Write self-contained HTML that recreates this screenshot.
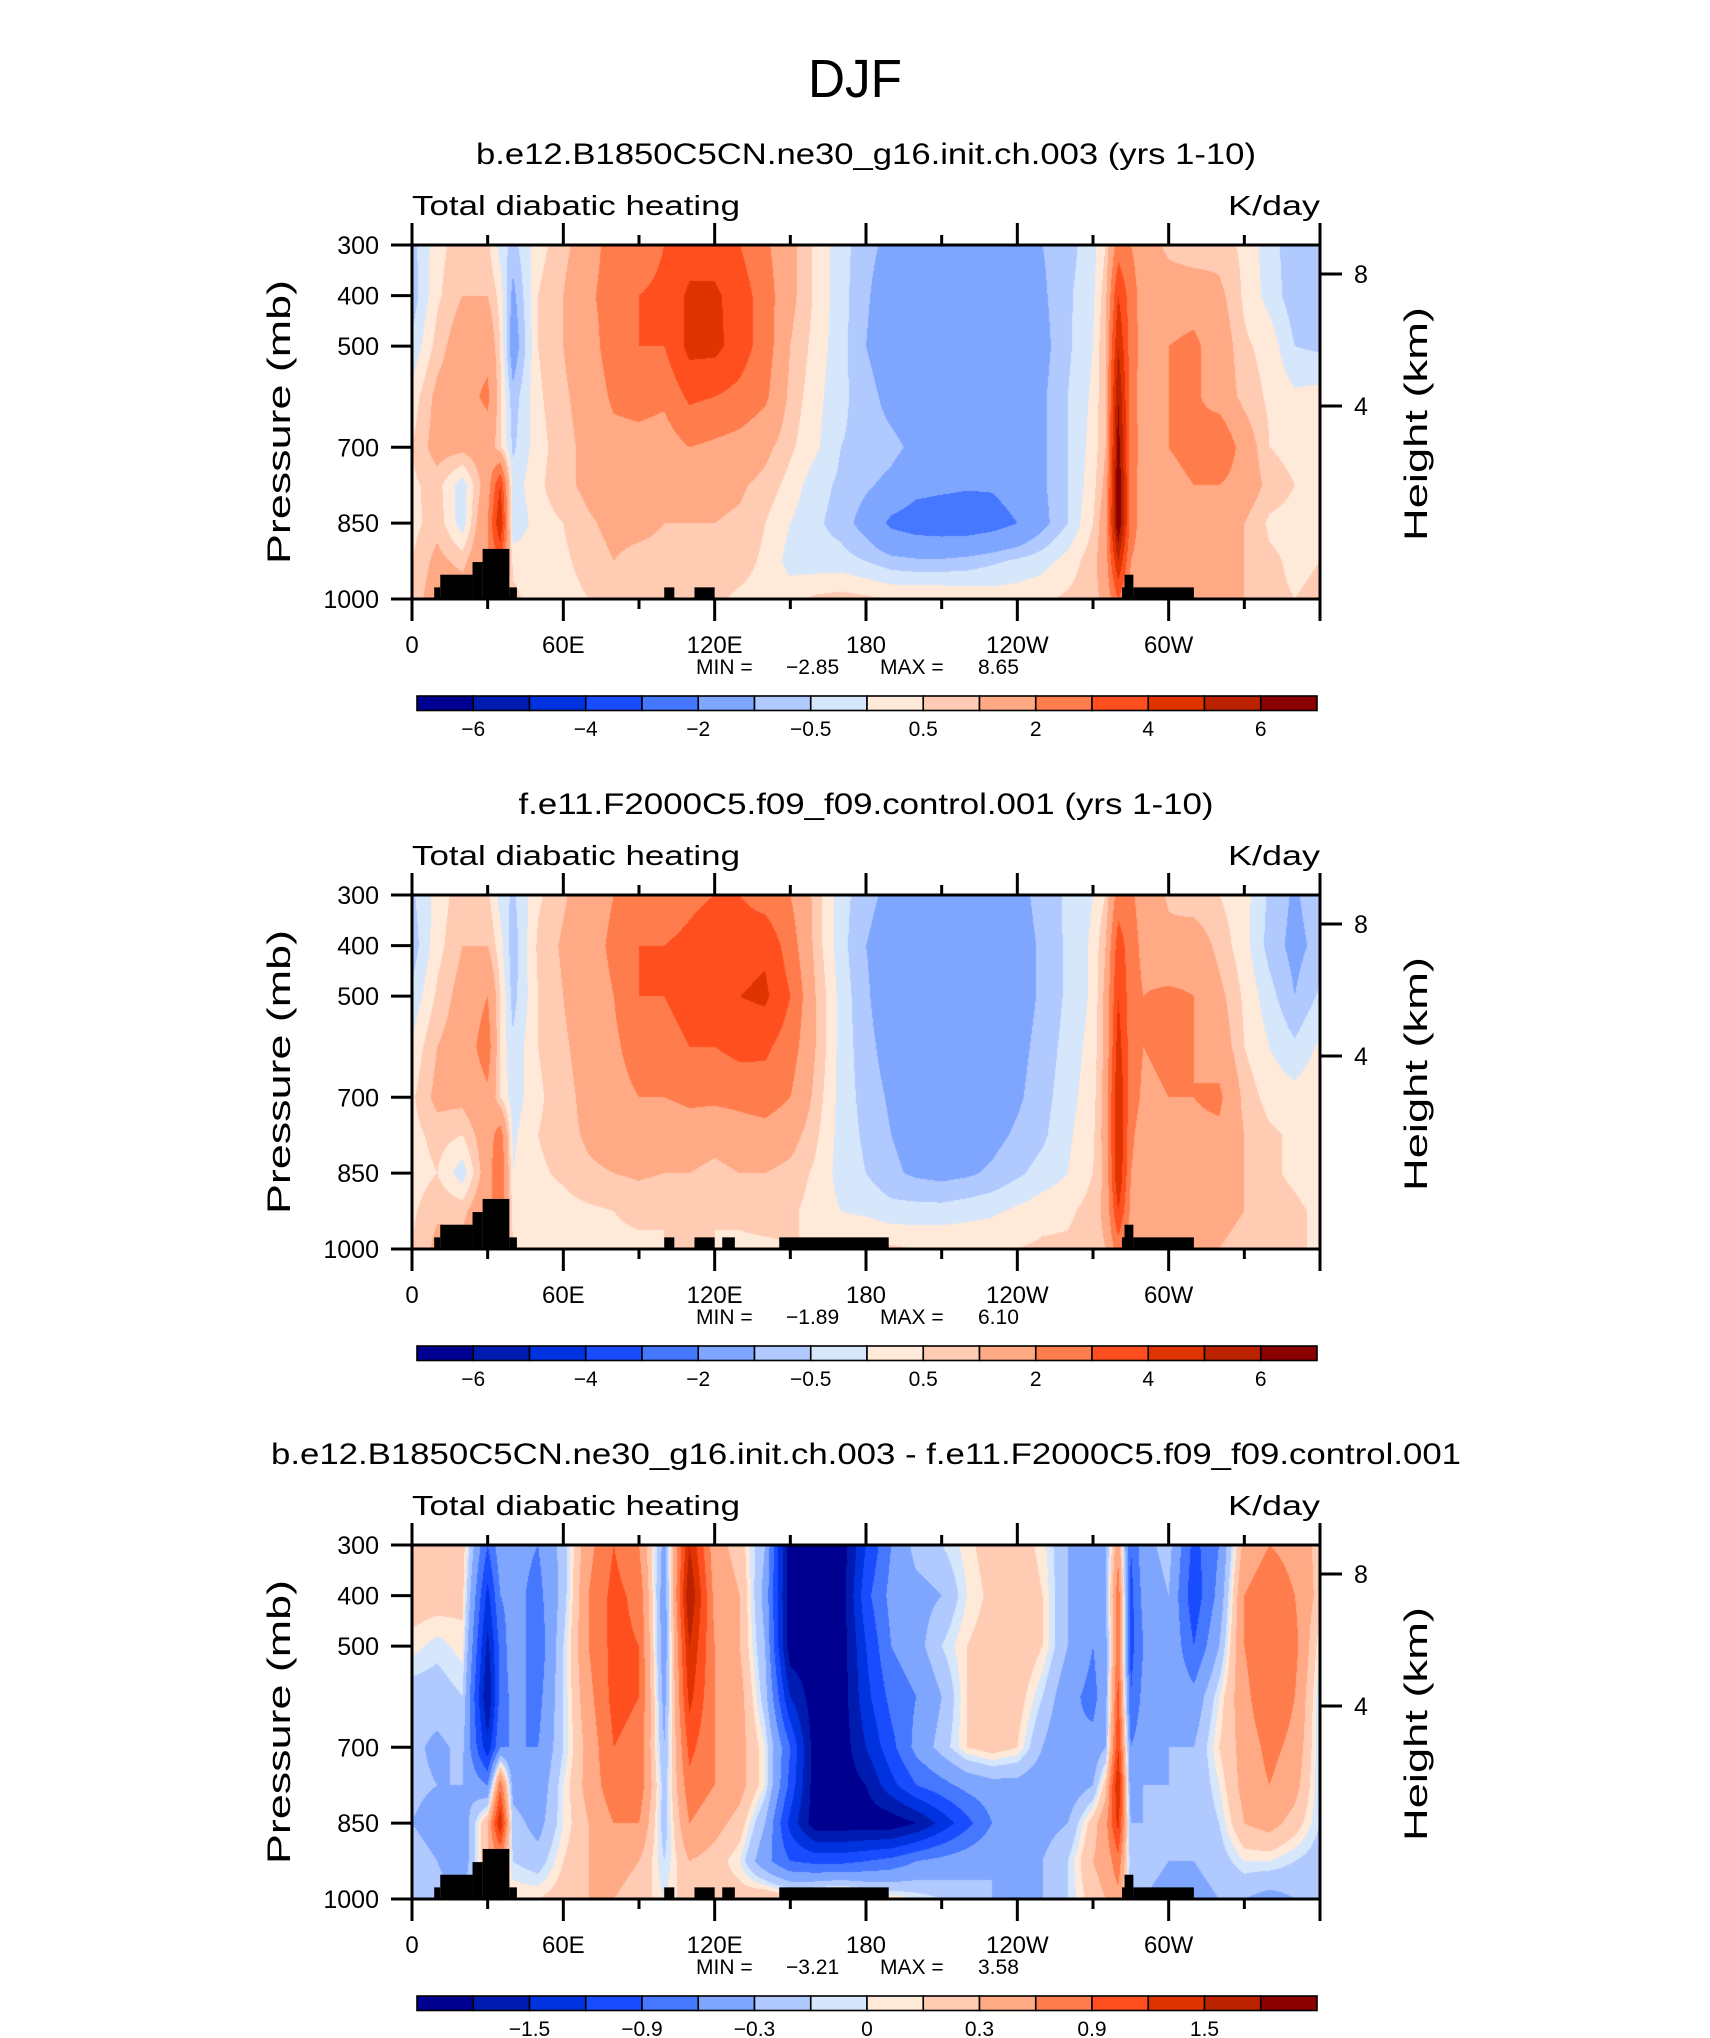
<!DOCTYPE html>
<html><head><meta charset="utf-8">
<style>
html,body{margin:0;padding:0;background:#fff;}
body{width:1710px;height:2038px;position:relative;overflow:hidden;font-family:"Liberation Sans",sans-serif;}
canvas{position:absolute;}
svg{position:absolute;left:0;top:0;}
</style></head>
<body>
<canvas id="c0" width="908" height="354" style="left:412px;top:245px"></canvas>
<canvas id="c1" width="908" height="354" style="left:412px;top:895px"></canvas>
<canvas id="c2" width="908" height="354" style="left:412px;top:1545px"></canvas>
<svg id="svg" width="1710" height="2038" xmlns="http://www.w3.org/2000/svg"></svg>
<script>
const LONS=[0,10,20,30,35,40,50,60,70,80,90,100,110,120,130,140,150,160,170,180,190,200,210,220,230,240,250,260,270,275,280,285,290,300,310,320,330,340,350,360];
const LEVS=[300,400,500,600,700,775,850,925,1000];

const p1_300=[-0.7,0.3,0.8,0.6,-0.2,-0.7,0.3,0.8,1.5,2.5,2.5,3,3.5,3.5,3,2.2,1.2,0.4,-0.3,-0.8,-1.2,-1.3,-1.3,-1.3,-1.3,-1.2,-1,-0.7,-0.2,0.5,2.5,2,1.5,0.8,0.5,0.7,0.4,-0.3,-0.8,-0.7];
const p1_400=[-0.8,0.4,1,1,0.3,-1.2,0.5,1,1.8,2.5,3,3.2,4.2,4.2,3.5,2.5,1.2,0.4,-0.3,-0.9,-1.5,-1.5,-1.6,-1.6,-1.5,-1.4,-1.1,-0.6,-0.1,0.8,4,2.5,1.5,1.5,1.6,1.2,0.4,-0.2,-0.8,-0.8];
const p1_500=[-0.4,0.7,1.5,1.7,0.5,-1.5,0.5,1,1.5,2.6,3,3,4.3,4.3,3.5,2.5,1,0.3,-0.3,-1,-1.6,-1.6,-1.6,-1.6,-1.6,-1.5,-1.2,-0.6,0,1,5,2.5,1.6,2,2.2,1.5,0.6,0.3,-0.5,-0.6];
const p1_600=[0.2,1.2,1.6,2.2,0.6,-0.8,0.4,0.9,1.3,2.2,2.4,2.2,3.2,3,2.7,2.2,0.8,0.2,-0.4,-0.7,-1.3,-1.6,-1.6,-1.6,-1.6,-1.5,-1.1,-0.5,0.1,1,6,2.5,1.5,2,2.2,1.5,0.8,0.4,0.1,0.2];
const p1_700=[0.5,1.3,1.2,1.5,0.6,-0.6,0.3,0.8,1.2,1.6,1.6,1.5,2,1.8,1.6,1.2,0.6,0.1,-0.5,-0.6,-0.8,-1.2,-1.5,-1.5,-1.6,-1.5,-1.1,-0.5,0.2,1,6.5,2.5,1.6,2,2.2,3,1.5,0.5,0.3,0.5];
const p1_775=[0.4,0.7,-0.3,1.5,4,-0.3,0.4,0.8,1.2,1.4,1.3,1.2,1.2,1.2,1.1,0.8,0.3,-0.3,-0.6,-0.9,-1.2,-1.7,-1.8,-1.9,-1.9,-1.6,-1.1,-0.5,0.3,1.2,7,2.5,1.5,1.8,2,2,1.5,0.8,0.5,0.4];
const p1_850=[0.3,0.8,-0.3,2,5,-0.5,0.3,0.5,0.9,1.2,1.2,1,1,1,0.9,0.5,0,-0.4,-0.7,-1.3,-2.2,-2.5,-2.6,-2.6,-2.4,-2,-1.2,-0.5,0.5,1.5,7,2.5,1.5,1.6,1.8,1.5,1,0.4,0.3,0.3];
const p1_925=[0.5,1.2,0.8,2,3,0.4,0.3,0.4,0.7,1,0.8,0.8,0.7,0.8,0.7,0.4,-0.2,-0.3,-0.3,-0.5,-0.8,-0.9,-0.9,-0.8,-0.6,-0.4,-0.2,0.2,0.8,1.5,5,2,1.5,1.3,1.3,1.2,1,0.6,0.4,0.5];
const p1_1000=[0.6,1.5,1.5,1.5,1.5,0.6,0.3,0.3,0.5,0.8,0.6,0.6,0.6,0.6,0.4,0.3,0.3,0.6,0.7,0.6,0.5,0.5,0.5,0.4,0.3,0.3,0.4,0.6,0.8,1.2,3,1.5,1.2,1.2,1.2,1.1,1,0.6,0.5,0.6];

const p2_300=[-0.6,0.2,0.8,0.6,-0.2,-0.6,0.4,0.9,1.5,2,2.5,2.5,2.8,3,3,2.5,2,0.8,-0.3,-0.8,-1.2,-1.3,-1.3,-1.3,-1.3,-1.2,-0.8,-0.4,0,0.5,2.5,2.2,1.5,0.9,0.6,0.5,0.2,-0.6,-1.1,-0.6];
const p2_400=[-0.8,0.3,1,1,0.2,-0.8,0.6,1.1,1.6,2.2,3,3,3.2,3.5,3.6,3.8,2.5,0.8,-0.3,-1,-1.4,-1.5,-1.5,-1.5,-1.5,-1.3,-0.9,-0.4,0.1,1,3.5,2.5,1.7,1.2,1.5,0.8,0.2,-0.7,-1.2,-0.8];
const p2_500=[-0.4,0.6,1.3,2,0.5,-0.7,0.5,1,1.5,2,3,3,3.5,3.7,4,4.2,3,1,-0.2,-0.9,-1.5,-1.5,-1.5,-1.5,-1.5,-1.3,-0.9,-0.4,0.1,1.2,4,2.5,2,2.2,2,1.2,0.4,-0.3,-1,-0.4];
const p2_600=[0.1,1,1.4,2.5,0.4,-0.4,0.5,0.9,1.3,1.8,2.5,2.5,3,3,3.3,3.2,2.5,1,-0.2,-0.8,-1.3,-1.5,-1.5,-1.5,-1.5,-1.2,-0.8,-0.3,0.2,1.2,4.5,2.5,2,2.2,2,1.5,0.5,0,-0.4,0.1];
const p2_700=[0.4,1.2,1.2,1.8,0.5,-0.3,0.4,0.8,1.2,1.6,2,2,2.2,2.2,2.3,2.5,2,0.8,-0.2,-0.7,-1.1,-1.3,-1.4,-1.4,-1.4,-1.1,-0.7,-0.2,0.3,1.3,5,2.5,1.8,2,2,2.2,0.8,0.3,0.2,0.4];
const p2_775=[0.3,0.7,0.5,1.5,2.5,-0.1,0.5,0.8,1.1,1.3,1.5,1.3,1.5,1.3,1.5,1.6,1.3,0.6,-0.2,-0.6,-1,-1.2,-1.3,-1.3,-1.2,-0.9,-0.6,-0.1,0.4,1.3,5,2.2,1.5,1.8,1.8,1.8,1,0.6,0.4,0.3];
const p2_850=[0.2,0.5,-0.3,1.5,3,0,0.4,0.6,0.9,1,1.1,1,1,0.8,1,1,0.8,0.4,-0.2,-0.5,-0.9,-1.1,-1.2,-1.1,-0.9,-0.6,-0.3,0,0.5,1.2,5,2,1.5,1.6,1.5,1.4,1,0.6,0.4,0.2];
const p2_925=[0.4,0.9,0.8,1.8,2.5,0.4,0.3,0.3,0.4,0.5,0.6,0.5,0.6,0.5,0.6,0.7,0.6,0.3,0,-0.1,-0.3,-0.3,-0.3,-0.2,-0.1,0.1,0.3,0.4,0.7,1.2,4,1.8,1.3,1.3,1.2,1.2,1,0.7,0.6,0.4];
const p2_1000=[0.5,1.2,1.3,1.5,1.5,0.5,0.3,0.3,0.3,0.4,0.4,0.5,0.5,0.5,0.4,0.4,0.5,0.5,0.5,0.6,0.6,0.5,0.5,0.5,0.5,0.5,0.6,0.6,0.7,1,2.5,1.3,1.2,1,1,1,0.8,0.6,0.5,0.5];

const p3_300=[0.2,0.3,0.2,-0.9,-0.4,-0.5,-0.6,-0.2,0.5,0.9,0.6,-0.4,1.5,0.4,0.2,-0.3,-2,-2,-2,-1.2,-0.6,-0.2,-0.1,0.05,0.2,0.2,0.05,-0.3,-0.5,-0.3,0.5,-0.9,-0.4,-0.2,-1,-0.6,0.4,0.6,0.5,0.2];
const p3_400=[0.2,0.2,0.15,-1.3,-0.6,-0.5,-0.7,-0.2,0.6,1,0.8,-0.5,1.8,0.5,0.3,-0.4,-2,-2,-2,-1,-0.5,-0.4,-0.3,0,0.15,0.25,0.1,-0.3,-0.6,-0.3,0.8,-1,-0.5,-0.3,-1.1,-0.5,0.6,0.8,0.6,0.2];
const p3_500=[0.05,-0.05,0.05,-1.6,-0.8,-0.4,-0.8,-0.1,0.6,1,0.9,-0.5,1.5,0.6,0.3,-0.3,-2,-2,-2,-1.2,-0.6,-0.4,-0.1,0.1,0.2,0.3,0.1,-0.3,-0.6,-0.4,0.8,-1,-0.6,-0.3,-0.9,-0.3,0.6,0.9,0.7,0];
const p3_600=[-0.2,-0.2,-0.1,-1.8,-0.8,-0.5,-0.7,-0.1,0.5,1,0.9,-0.4,1.3,0.6,0.4,-0.2,-1.5,-2,-2,-1.3,-0.8,-0.6,-0.3,0.1,0.2,0.2,-0.1,-0.5,-0.7,-0.4,1,-0.9,-0.5,-0.3,-0.5,0,0.5,0.9,0.6,-0.1];
const p3_700=[-0.25,-0.35,-0.25,-1.4,-0.6,-0.6,-0.6,-0.1,0.4,0.9,0.8,-0.3,1,0.6,0.4,0,-0.9,-2,-2,-1.5,-1,-0.5,-0.2,0.1,0.2,0.1,-0.3,-0.6,-0.5,-0.3,1.2,-0.6,-0.4,-0.3,-0.3,0.1,0.4,0.7,0.5,-0.1];
const p3_775=[-0.25,-0.3,-0.3,-0.6,0.8,-0.4,-0.5,0,0.4,0.8,0.8,-0.2,0.8,0.6,0.4,0,-1,-2,-2,-1.8,-1.3,-0.9,-0.7,-0.5,-0.4,-0.4,-0.5,-0.5,-0.3,0.2,1.5,-0.5,-0.3,-0.3,-0.3,0,0.4,0.6,0.4,-0.1];
const p3_850=[-0.3,-0.4,-0.5,0.3,1.5,-0.2,-0.4,0,0.3,0.6,0.6,-0.2,0.6,0.4,0.2,-0.3,-1.3,-2,-2,-2,-2,-1.8,-1.4,-1,-0.6,-0.5,-0.4,-0.3,0.2,0.5,1.3,-0.3,-0.3,-0.2,-0.3,-0.1,0.3,0.4,0.2,-0.1];
const p3_925=[-0.2,-0.3,-0.5,0.3,0.5,-0.1,-0.2,0.1,0.3,0.4,0.3,-0.1,0.3,0.2,0,-0.5,-0.9,-1,-1,-0.9,-0.8,-0.6,-0.5,-0.4,-0.3,-0.3,-0.3,-0.1,0.3,0.4,0.8,-0.2,-0.2,-0.3,-0.3,-0.2,0,0,-0.1,-0.2];
const p3_1000=[-0.1,-0.2,-0.3,0.2,0.2,0.1,0.1,0.2,0.3,0.3,0.2,0,0.2,0.2,0.2,0.3,0.2,0.3,0.4,0.2,0.1,0,-0.1,-0.2,-0.3,-0.4,-0.3,-0.1,0.2,0.3,0.5,-0.2,-0.3,-0.4,-0.4,-0.3,-0.3,-0.4,-0.3,-0.1];

const levelsA=[-6,-5,-4,-3,-2,-1,-0.5,0,0.5,1,2,3,4,5,6];
const levelsB=[-1.8,-1.5,-1.2,-0.9,-0.6,-0.3,-0.1,0,0.1,0.3,0.6,0.9,1.2,1.5,1.8];
const cbLabelsA=["\u22126","\u22124","\u22122","\u22120.5","0.5","2","4","6"];
const cbLabelIdxA=[0,2,4,6,8,10,12,14];
const cbLabelsB=["\u22121.5","\u22120.9","\u22120.3","0","0.3","0.9","1.5"];
const cbLabelIdxB=[1,3,5,7,9,11,13];
const COLORS=["#000090","#001cb0","#0032e0","#1a4cff","#4577ff","#7fa6ff","#b0c9ff","#d6e7fb","#ffe9d9","#ffcbb3","#ffa985","#ff7c4c","#ff4f1f","#e03400","#bb2200","#8b0000"];
const topoA=[[8.8,11.2,977],[11.2,24,952],[24,28,927],[28,38.6,901],[38.6,41.6,977],[100,104,977],[112,120,977],[281.5,284,977],[282.5,286,952],[286,310,977]];
const topoB=[[8.8,11.2,977],[11.2,24,952],[24,28,927],[28,38.6,901],[38.6,41.6,977],[100,104,977],[112,120,977],[123,128,977],[145.6,189,977],[281.5,284,977],[282.5,286,952],[286,310,977]];
const lonTicks=[0,60,120,180,240,300];
const lonLabels=["0","60E","120E","180","120W","60W"];
const pTicks=[300,400,500,700,850,1000];
const hTicks=[[8,274],[4,406]];
const titles=["b.e12.B1850C5CN.ne30_g16.init.ch.003 (yrs 1-10)","f.e11.F2000C5.f09_f09.control.001 (yrs 1-10)","b.e12.B1850C5CN.ne30_g16.init.ch.003 - f.e11.F2000C5.f09_f09.control.001"];
const minVals=["\u22122.85","\u22121.89","\u22123.21"];
const maxVals=["8.65","6.10","3.58"];

const fields=[[p1_300,p1_400,p1_500,p1_600,p1_700,p1_775,p1_850,p1_925,p1_1000],
 [p2_300,p2_400,p2_500,p2_600,p2_700,p2_775,p2_850,p2_925,p2_1000],
 [p3_300,p3_400,p3_500,p3_600,p3_700,p3_775,p3_850,p3_925,p3_1000]];
const PL=412,PW=908,PH=354;
const tops=[245,895,1545];
const titleW=[780,695,1190];

function rgb(h){return [parseInt(h.substr(1,2),16),parseInt(h.substr(3,2),16),parseInt(h.substr(5,2),16)];}
const RGB=COLORS.map(rgb);
function findIdx(arr,v){let i=0;while(i<arr.length-2&&arr[i+1]<v)i++;return i;}
function drawField(ci,field,levels){
  const cv=document.getElementById('c'+ci),ctx=cv.getContext('2d');
  const img=ctx.createImageData(PW,PH);
  for(let px=0;px<PW;px++){
    const lon=(px+0.5)/PW*360;const i=findIdx(LONS,lon);
    const tx=(lon-LONS[i])/(LONS[i+1]-LONS[i]);
    for(let py=0;py<PH;py++){
      const p=300+(py+0.5)/PH*700;const j=findIdx(LEVS,p);
      const ty=(p-LEVS[j])/(LEVS[j+1]-LEVS[j]);
      let v=(field[j][i]*(1-tx)+field[j][i+1]*tx)*(1-ty)+(field[j+1][i]*(1-tx)+field[j+1][i+1]*tx)*ty;
      v=Math.round(v*1e6)/1e6;
      let k=0;while(k<levels.length&&v>=levels[k])k++;
      const c=RGB[k],o=(py*PW+px)*4;
      img.data[o]=c[0];img.data[o+1]=c[1];img.data[o+2]=c[2];img.data[o+3]=255;
    }
  }
  ctx.putImageData(img,0,0);
}
const svg=document.getElementById('svg');
const NS="http://www.w3.org/2000/svg";
function mk(tag,attrs,parent){const e=document.createElementNS(NS,tag);for(const k in attrs)e.setAttribute(k,attrs[k]);(parent||svg).appendChild(e);return e;}
function txt(s,attrs,parent){const e=mk('text',Object.assign({'font-family':'Liberation Sans, sans-serif',fill:'#000'},attrs),parent);e.textContent=s;return e;}
const xs=lon=>PL+lon/360*PW;

let e=txt("DJF",{x:855,y:97,'font-size':54,'text-anchor':'middle',textLength:94,lengthAdjust:'spacingAndGlyphs'});



for(let n=0;n<3;n++){
  const T=tops[n];const ys=p=>T+(p-300)/700*PH;
  const levels=n<2?levelsA:levelsB;
  drawField(n,fields[n],levels);
  const g=mk('g',{});
  
  
  e=txt(titles[n],{x:866,y:T-81,'font-size':30,'text-anchor':'middle',textLength:titleW[n],lengthAdjust:'spacingAndGlyphs'},g);
  
  
  e=txt("Total diabatic heating",{x:PL,y:T-30,'font-size':28,textLength:328,lengthAdjust:'spacingAndGlyphs'},g);
  
  
  e=txt("K/day",{x:PL+PW,y:T-30,'font-size':28,'text-anchor':'end',textLength:92,lengthAdjust:'spacingAndGlyphs'},g);
  
  
  const topo=n===0?topoA:topoB;
  for(const s of topo){
    e=mk('rect',{x:xs(s[0]),y:ys(s[2]),width:xs(s[1])-xs(s[0]),height:ys(1000)-ys(s[2]),fill:'#000'},g);
    
    
  }
  e=mk('rect',{x:PL,y:T,width:PW,height:PH,fill:'none',stroke:'#000','stroke-width':3},g);
  
  
  for(let lon=0;lon<=360;lon+=30){
    const maj=lon%60===0;const x=xs(lon);
    e=mk('line',{x1:x,x2:x,y1:T,y2:T-(maj?22:10),stroke:'#000','stroke-width':3},g);
    
    
    e=mk('line',{x1:x,x2:x,y1:T+PH,y2:T+PH+(maj?22:10),stroke:'#000','stroke-width':3},g);
    
    
  }
  lonTicks.forEach((lon,k)=>{
    e=txt(lonLabels[k],{x:xs(lon),y:T+PH+54,'font-size':24,'text-anchor':'middle'},g);
    
    
  });
  pTicks.forEach(p=>{
    e=mk('line',{x1:PL-21,x2:PL,y1:ys(p),y2:ys(p),stroke:'#000','stroke-width':3},g);
    
    
    e=txt(String(p),{x:PL-33,y:ys(p)+9,'font-size':25,'text-anchor':'end'},g);
    
    
  });
  hTicks.forEach(h=>{
    const y=h[1]-245+T;
    e=mk('line',{x1:PL+PW,x2:PL+PW+22,y1:y,y2:y,stroke:'#000','stroke-width':3},g);
    
    
    e=txt(String(h[0]),{x:1354,y:y+9,'font-size':25},g);
    
    
  });
  const cy=T+PH/2;
  e=txt("Pressure (mb)",{x:0,y:0,'font-size':32,'text-anchor':'middle',textLength:284,lengthAdjust:'spacingAndGlyphs',transform:`translate(290,${cy}) rotate(-90)`},g);
  
  
  e=txt("Height (km)",{x:0,y:0,'font-size':32,'text-anchor':'middle',textLength:234,lengthAdjust:'spacingAndGlyphs',transform:`translate(1427,${cy+2}) rotate(-90)`},g);
  
  
  e=txt("MIN =",{x:696,y:T+PH+75,'font-size':21},g);
  
  
  e=txt(minVals[n],{x:786,y:T+PH+75,'font-size':21},g);
  
  
  e=txt("MAX =",{x:880,y:T+PH+75,'font-size':21},g);
  
  
  e=txt(maxVals[n],{x:978,y:T+PH+75,'font-size':21},g);
  
  
  const cbT=T+451,cbL=417,bw=56.25;
  const cb=mk('g',{},g);
  
  
  for(let k=0;k<16;k++){
    e=mk('rect',{x:cbL+k*bw,y:cbT,width:bw,height:14.5,fill:COLORS[k],stroke:'#000','stroke-width':1.6},cb);
    
    
  }
  const labs=n<2?cbLabelsA:cbLabelsB, idx=n<2?cbLabelIdxA:cbLabelIdxB;
  labs.forEach((s,k)=>{
    e=txt(s,{x:cbL+(idx[k]+1)*bw,y:cbT+40,'font-size':21,'text-anchor':'middle'},cb);
    
    
  });
}
</script>
</body></html>
